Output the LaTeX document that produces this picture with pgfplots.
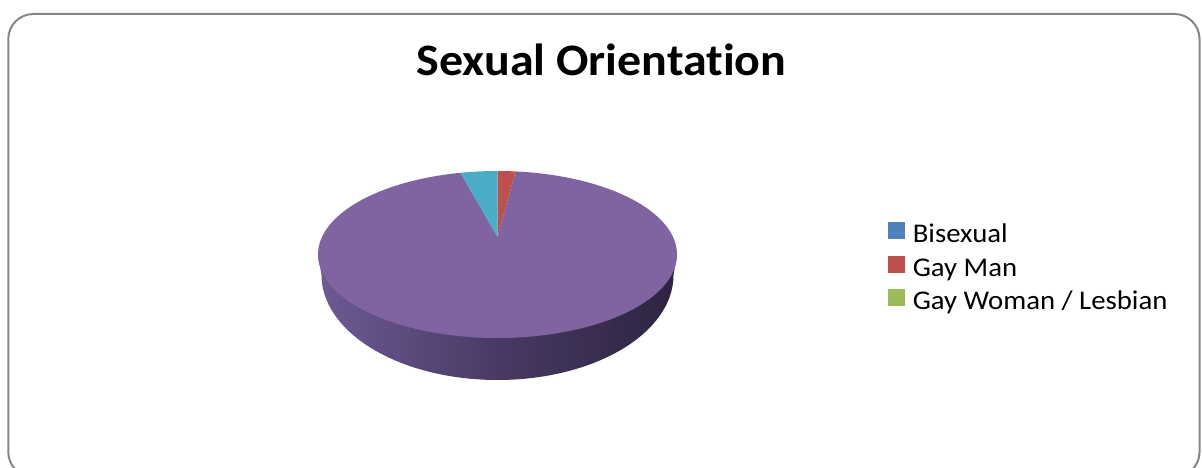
\documentclass[border=0pt]{standalone}
\usepackage{fontspec}
\setmainfont{Carlito}[Ligatures=NoCommon]
\usepackage{graphicx}
\usepackage{pgfplots}
\usepackage{pgfplotstable}
\pgfplotsset{compat=1.18}
\definecolor{bisex}{RGB}{79,129,189}
\definecolor{gayman}{RGB}{192,80,77}
\definecolor{gaywoman}{RGB}{155,187,89}
\definecolor{hetero}{RGB}{128,100,162}
\definecolor{other}{RGB}{75,172,198}
\definecolor{sideL}{RGB}{110,90,148}
\definecolor{sideM}{RGB}{72,58,100}
\definecolor{sideR}{RGB}{46,35,64}
\definecolor{frame}{RGB}{134,134,134}

\pgfplotstableread[col sep=comma]{
label,value
Bisexual,0
Gay Man,1.6
Gay Woman / Lesbian,0
Heterosexual,95.1
Other,3.3
}\piedata

\begin{document}
\begin{tikzpicture}
\pgfplotstablegetelem{0}{value}\of\piedata \pgfmathsetmacro\vA{\pgfplotsretval}
\pgfplotstablegetelem{1}{value}\of\piedata \pgfmathsetmacro\vB{\pgfplotsretval}
\pgfplotstablegetelem{2}{value}\of\piedata \pgfmathsetmacro\vC{\pgfplotsretval}
\pgfplotstablegetelem{3}{value}\of\piedata \pgfmathsetmacro\vD{\pgfplotsretval}
\pgfplotstablegetelem{4}{value}\of\piedata \pgfmathsetmacro\vE{\pgfplotsretval}
\pgfmathsetmacro\aB{90-3.6*\vA}
\pgfmathsetmacro\bB{\aB-3.6*\vB}
\pgfmathsetmacro\bC{\bB-3.6*\vC}
\pgfmathsetmacro\bD{\bC-3.6*\vD}
\pgfmathsetmacro\bE{\bD-3.6*\vE}
\begin{axis}[
  width=601pt, height=233.5pt, scale only axis, hide axis,
  xmin=0, xmax=1202, ymin=0, ymax=467,
  legend cell align=left,
  legend style={draw=none, fill=none, at={(0.73877,0.52677)}, anchor=north west,
    inner sep=0pt, outer sep=0pt, row sep=0pt, column sep=4pt,
    font=\fontsize{13.5}{16}\selectfont,
    nodes={inner sep=0pt, outer sep=0pt, text height=10.75pt, text depth=6pt}},
]
% side of the pie
\addplot[forget plot, draw=none, left color=sideL, right color=sideR, middle color=sideM,
  domain=180:360, samples=120]
  ({497.5+176*cos(x)},{192+105*sin(x)}) -- (axis cs:677,212.5) -- (axis cs:318,212.5) -- cycle;
% top face slices
\addplot[forget plot, draw=none, fill=hetero, domain=\bD:\bC, samples=240]
  ({497.5+179.5*cos(x)},{212.5+83.5*sin(x)}) -- (axis cs:497.5,230) -- cycle;
\addplot[forget plot, draw=none, fill=gayman, domain=\bB:\aB, samples=12]
  ({497.5+179.5*cos(x)},{212.5+83.5*sin(x)}) -- (axis cs:497.5,230) -- cycle;
\addplot[forget plot, draw=none, fill=other, domain=\bE:\bD, samples=12]
  ({497.5+179.5*cos(x)},{212.5+83.5*sin(x)}) -- (axis cs:497.5,230) -- cycle;
% legend
\addlegendimage{legend image code/.code={\fill[bisex] (0pt,-0.5pt) rectangle (8pt,7.5pt);}}
\addlegendentry{\scalebox{1.065}[1]{Bisexual}}
\addlegendimage{legend image code/.code={\fill[gayman] (0pt,-0.5pt) rectangle (8pt,7.5pt);}}
\addlegendentry{\scalebox{1.065}[1]{Gay Man}}
\addlegendimage{legend image code/.code={\fill[gaywoman] (0pt,-0.5pt) rectangle (8pt,7.5pt);}}
\addlegendentry{\scalebox{1.065}[1]{Gay Woman / Lesbian}}
% title and frame
\node[font=\fontsize{22.5}{27}\selectfont\bfseries, anchor=base, xscale=1.066] at (axis cs:601.5,392) {Sexual Orientat\kern0pt ion};
\draw[frame, line width=1pt, rounded corners=12.5pt] (axis cs:8.3,-10) rectangle (axis cs:1199.5,453);
\end{axis}
\pgfresetboundingbox
\useasboundingbox (current axis.south west) rectangle (current axis.north east);
\end{tikzpicture}
\end{document}
